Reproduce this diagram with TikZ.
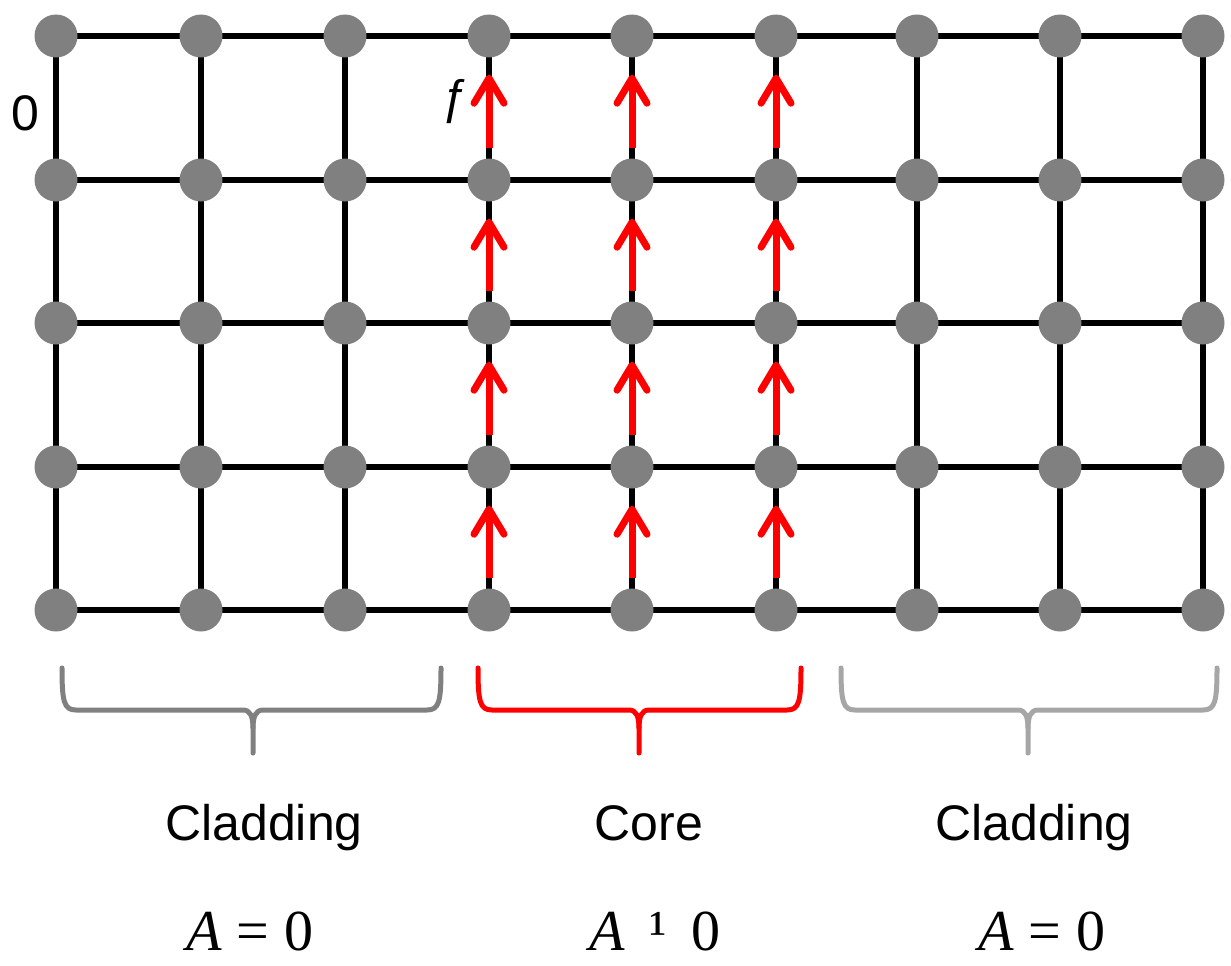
\documentclass[tikz,border=0pt]{standalone}
\usepackage{fontspec}
\setmainfont{Liberation Sans}
\newfontfamily\serifA{Liberation Serif}
\usetikzlibrary{arrows.meta,backgrounds}
\definecolor{dotgray}{RGB}{128,128,128}
\definecolor{bracedark}{RGB}{128,128,128}
\definecolor{bracelight}{RGB}{166,166,166}
\newcommand\mybrace[4]{%
  \draw[brace,#1] (#2,668) .. controls (#2,702) and ({#2+2},710) .. ({#2+14},710) -- ({#3-10},710)
     .. controls ({#3-3},710) and (#3,716) .. (#3,728) -- (#3,753);
  \draw[brace,#1] (#4,668) .. controls (#4,702) and ({#4-2},710) .. ({#4-14},710) -- ({#3+10},710)
     .. controls ({#3+3},710) and (#3,716) .. (#3,728);
}
\begin{document}
\begin{tikzpicture}[x=1pt,y=-1pt,
  dot/.style={circle,fill=dotgray,draw=none,inner sep=0pt,minimum size=43pt},
  gridline/.style={line width=6pt,black},
  flux/.style={red,line width=7pt,
    -{Straight Barb[length=25pt,width=30pt,line cap=round,line join=round]},
    shorten <=10pt, shorten >=17pt},
  brace/.style={line width=5pt,line cap=round,line join=round},
  lbl/.style={font=\fontsize{50}{60}\selectfont,inner sep=0pt},
  eq/.style={font=\serifA\fontsize{58}{70}\selectfont,inner sep=0pt}]
\useasboundingbox (0,0) rectangle (1231,966);
% lattice points
\foreach \c/\x in {1/56,2/201,3/345,4/489,5/632,6/776,7/917,8/1060,9/1203}{
  \foreach \r/\y in {1/36,2/180,3/323,4/467,5/610}{
    \node[dot] (d-\c-\r) at (\x,\y) {};
  }
}
% grid lines
\begin{pgfonlayer}{background}
  \foreach \r in {1,...,5}{
    \draw[gridline] (d-1-\r.center) -- (d-9-\r.center);
  }
  \foreach \c in {1,...,9}{
    \draw[gridline] (d-\c-1.center) -- (d-\c-5.center);
  }
\end{pgfonlayer}
% flux arrows in the core
\foreach \c in {4,5,6}{
  \foreach \r [evaluate=\r as \rn using int(\r+1)] in {1,2,3,4}{
    \draw[flux] (d-\c-\rn) -- (d-\c-\r);
  }
}
% labels
\node[lbl] (zero) at (25,113) {0};
\node[inner sep=0pt,font=\fontsize{48}{58}\selectfont] (flab) at (456,102) {ƒ};
% braces
\mybrace{bracedark}{62}{253}{441}
\mybrace{red}{478}{639}{801}
\mybrace{bracelight}{841}{1028}{1217}
% region names
\node[lbl,anchor=base] (cladL) at (264,840) {Cladding};
\node[lbl,anchor=base] (coreT) at (649,840) {Core};
\node[lbl,anchor=base] (cladR) at (1034,840) {Cladding};
% conditions
\node[eq,anchor=base] (eqL) at (250,950) {\textit{A} = 0};
\node[eq,anchor=base] (eqC) at (655,950) {\textit{A}\hspace{0.42em}¹\hspace{0.42em}0};
\node[eq,anchor=base] (eqR) at (1042,950) {\textit{A} = 0};
\end{tikzpicture}
\end{document}
